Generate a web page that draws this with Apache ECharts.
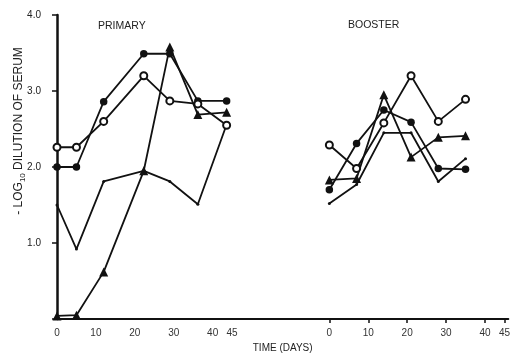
<!DOCTYPE html>
<html>
<head>
<meta charset="utf-8">
<script src="https://cdn.jsdelivr.net/npm/echarts@6/dist/echarts.min.js"></script>
<style>
html,body{margin:0;padding:0;background:#fff;}
#c{width:513px;height:358px;}
</style>
</head>
<body>
<div id="c"></div>
<script>
// ---- data ----
const boosterOffset = 70; // booster day 0 placed at day 70 of the shared axis
const primaryDays = [0, 5, 12, 22.3, 29, 36.2, 43.6];
const boosterDays = [0, 7, 14, 21, 28, 35];

const primaryFilled = [2.0, 2.0, 2.86, 3.49, 3.49, 2.87, 2.87];
const primaryOpen   = [2.26, 2.26, 2.6, 3.2, 2.87, 2.83, 2.55];
const primaryTri    = [0.04, 0.05, 0.62, 1.95, 3.58, 2.69, 2.72];
const primaryCross  = [1.5, 0.92, 1.81, 1.95, 1.81, 1.51, 2.56];

const boosterFilled = [1.70, 2.31, 2.75, 2.59, 1.98, 1.97];
const boosterOpen   = [2.29, 1.98, 2.58, 3.2, 2.6, 2.89];
const boosterTri    = [1.83, 1.85, 2.95, 2.13, 2.39, 2.41];
const boosterCross  = [1.52, 1.77, 2.45, 2.45, 1.81, 2.11];

const dayTickLabels = [0, 10, 20, 30, 40, 45];

// ---- build ----
function pts(days, vals, off) { return days.map((d, i) => [d + off, vals[i]]); }
const primaryTicks = dayTickLabels.slice();
const boosterTicks = dayTickLabels.map(v => v + boosterOffset);

const styles = {
  filled: { symbol: 'circle', symbolSize: 7.5 },
  open:   { symbol: 'emptyCircle', symbolSize: 7 },
  tri:    { symbol: 'triangle', symbolSize: 9 },
  cross:  { symbol: 'circle', symbolSize: 3 }
};
function mk(name, data, st) {
  return {
    name: name, type: 'line', data: data,
    symbol: st.symbol, symbolSize: st.symbolSize, showSymbol: true,
    lineStyle: { color: '#111', width: 1.8 },
    itemStyle: { color: '#111', borderColor: '#111', borderWidth: st.symbol === 'emptyCircle' ? 1.6 : 0 },
    emphasis: { disabled: true }, animation: false, z: st.symbol === 'emptyCircle' ? 3 : 2
  };
}
const series = [
  mk('pf', pts(primaryDays, primaryFilled, 0), styles.filled),
  mk('po', pts(primaryDays, primaryOpen, 0), styles.open),
  mk('pt', pts(primaryDays, primaryTri, 0), styles.tri),
  mk('pc', pts(primaryDays, primaryCross, 0), styles.cross),
  mk('bf', pts(boosterDays, boosterFilled, boosterOffset), styles.filled),
  mk('bo', pts(boosterDays, boosterOpen, boosterOffset), styles.open),
  mk('bt', pts(boosterDays, boosterTri, boosterOffset), styles.tri),
  mk('bc', pts(boosterDays, boosterCross, boosterOffset), styles.cross)
];

const FONT = '"Liberation Sans", "DejaVu Sans", sans-serif';
const chart = echarts.init(document.getElementById('c'), null, { renderer: 'canvas' });
chart.setOption({
  backgroundColor: '#fff',
  animation: false,
  title: [
    { text: 'PRIMARY', left: 93, top: 16, textStyle: { fontFamily: FONT, fontSize: 10.5, fontWeight: 'normal', color: '#222' } },
    { text: 'BOOSTER', left: 343, top: 15, textStyle: { fontFamily: FONT, fontSize: 10.5, fontWeight: 'normal', color: '#222' } }
  ],
  grid: { left: 57, top: 15, right: 4, bottom: 29, containLabel: false },
  xAxis: {
    type: 'value', min: 0, max: 116,
    name: 'TIME (DAYS)', nameLocation: 'middle', nameGap: 24,
    nameTextStyle: { fontFamily: FONT, fontSize: 10, color: '#222' },
    axisLine: { show: true, lineStyle: { color: '#111', width: 2 } },
    splitLine: { show: false },
    axisTick: { show: true, length: 4, lineStyle: { color: '#111', width: 1.5 }, customValues: boosterTicks },
    axisLabel: {
      customValues: primaryTicks.concat(boosterTicks),
      formatter: v => String(v >= boosterOffset ? v - boosterOffset : v),
      fontFamily: FONT, fontSize: 10, color: '#333', margin: 9
    }
  },
  yAxis: {
    type: 'value', min: 0, max: 4, interval: 1,
    axisLine: { show: true, lineStyle: { color: '#111', width: 2.5 } },
    splitLine: { show: false },
    axisTick: { show: true, length: 5, lineStyle: { color: '#111', width: 1.5 } },
    axisLabel: {
      formatter: v => (v === 0 ? '' : v.toFixed(1)),
      fontFamily: FONT, fontSize: 10, color: '#222', margin: 16
    }
  },
  graphic: [{
    type: 'text', x: 19, y: 131, rotation: Math.PI / 2,
    style: {
      text: '{a|- LOG}{s|10}{a| DILUTION OF SERUM}',
      align: 'center', verticalAlign: 'middle',
      fill: '#222',
      rich: {
        a: { fontFamily: FONT, fontSize: 12, fill: '#222', lineHeight: 16, verticalAlign: 'middle' },
        s: { fontFamily: FONT, fontSize: 8, fill: '#222', lineHeight: 16, verticalAlign: 'bottom' }
      }
    }
  }],
  series: series
});
</script>
</body>
</html>
